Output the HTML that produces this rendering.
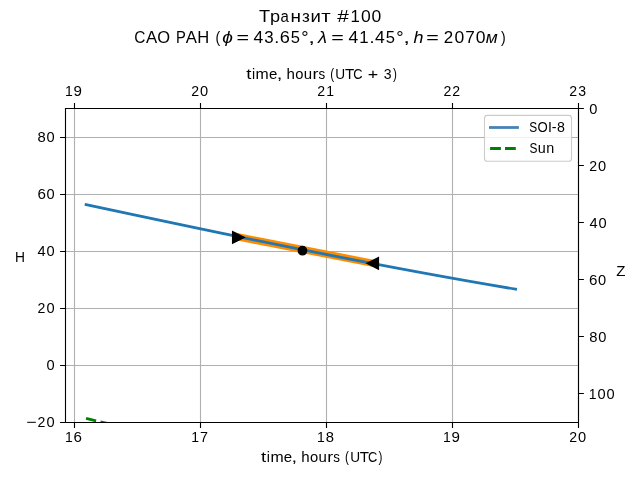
<!DOCTYPE html><html><head><meta charset="utf-8"><style>html,body{margin:0;padding:0;background:#fff;overflow:hidden}svg{display:block;will-change:transform}text{font-family:"Liberation Sans",sans-serif;fill:#000}</style></head><body>
<svg width="640" height="480" viewBox="0 0 640 480">
<rect width="640" height="480" fill="#fff"/>
<defs><clipPath id="ax"><rect x="65.5" y="108.5" width="513" height="314"/></clipPath></defs>
<path d="M74.5 108.5V422.5 M200.5 108.5V422.5 M326.5 108.5V422.5 M452.5 108.5V422.5 M578.5 108.5V422.5 M65.5 137.5H578.5 M65.5 194.5H578.5 M65.5 251.5H578.5 M65.5 308.5H578.5 M65.5 365.5H578.5 M65.5 422.5H578.5" stroke="#b0b0b0" stroke-width="1.111" fill="none"/>
<g clip-path="url(#ax)">
<path d="M86.1 418.4 L140 431.3" stroke="#008000" stroke-width="2.78" stroke-dasharray="10.28 4.45" fill="none"/>
<path d="M238.05 236.9 L373.0 263.3" stroke="#ff8c00" stroke-width="7.3" stroke-linecap="square" fill="none"/>
<path d="M86.1 204.68 C229.27 235.24 372.43 265.31 515.6 289.17" stroke="#1f77b4" stroke-width="2.78" stroke-linecap="square" fill="none"/>
<path d="M244.05 237.43 L232.65 231.73 L232.65 243.13Z M367.00 263.35 L378.40 257.65 L378.40 269.05Z" fill="#000" stroke="#000" stroke-width="1.39" stroke-linejoin="miter"/>
<circle cx="302.46" cy="250.7" r="4.17" fill="#000" stroke="#000" stroke-width="1.39"/>
</g>
<path d="M65.5 422.5V108.5H578.5V422.5Z" stroke="#000" stroke-width="1.111" fill="none" stroke-linecap="square"/>
<path d="M74.5 422.5v5.40 M74.5 108.5v-5.40 M200.5 422.5v5.40 M200.5 108.5v-5.40 M326.5 422.5v5.40 M326.5 108.5v-5.40 M452.5 422.5v5.40 M452.5 108.5v-5.40 M578.5 422.5v5.40 M578.5 108.5v-5.40 M65.5 137.5h-5.40 M65.5 194.5h-5.40 M65.5 251.5h-5.40 M65.5 308.5h-5.40 M65.5 365.5h-5.40 M65.5 422.5h-5.40 M578.5 108.5h5.40 M578.5 165.5h5.40 M578.5 222.5h5.40 M578.5 279.5h5.40 M578.5 336.5h5.40 M578.5 393.5h5.40" stroke="#000" stroke-width="1.111" fill="none"/>
<text x="65.05" y="441.50" font-size="14.72" textLength="7.78" lengthAdjust="spacingAndGlyphs">1</text>
<text x="73.62" y="441.50" font-size="14.72" textLength="8.43" lengthAdjust="spacingAndGlyphs">6</text>
<text x="191.20" y="441.50" font-size="14.72" textLength="7.78" lengthAdjust="spacingAndGlyphs">1</text>
<text x="199.99" y="441.50" font-size="14.72" textLength="7.96" lengthAdjust="spacingAndGlyphs">7</text>
<text x="317.09" y="441.50" font-size="14.72" textLength="7.78" lengthAdjust="spacingAndGlyphs">1</text>
<text x="325.76" y="441.50" font-size="14.72" textLength="8.23" lengthAdjust="spacingAndGlyphs">8</text>
<text x="443.10" y="441.50" font-size="14.72" textLength="7.78" lengthAdjust="spacingAndGlyphs">1</text>
<text x="451.64" y="441.50" font-size="14.72" textLength="8.41" lengthAdjust="spacingAndGlyphs">9</text>
<text x="569.17" y="441.50" font-size="14.72" textLength="7.85" lengthAdjust="spacingAndGlyphs">2</text>
<text x="578.05" y="441.50" font-size="14.72" textLength="8.14" lengthAdjust="spacingAndGlyphs">0</text>
<text x="65.10" y="95.50" font-size="14.72" textLength="7.78" lengthAdjust="spacingAndGlyphs">1</text>
<text x="73.64" y="95.50" font-size="14.72" textLength="8.41" lengthAdjust="spacingAndGlyphs">9</text>
<text x="191.17" y="95.50" font-size="14.72" textLength="7.85" lengthAdjust="spacingAndGlyphs">2</text>
<text x="200.05" y="95.50" font-size="14.72" textLength="8.14" lengthAdjust="spacingAndGlyphs">0</text>
<text x="317.35" y="95.50" font-size="14.72" textLength="7.85" lengthAdjust="spacingAndGlyphs">2</text>
<text x="326.34" y="95.50" font-size="14.72" textLength="7.78" lengthAdjust="spacingAndGlyphs">1</text>
<text x="443.41" y="95.50" font-size="14.72" textLength="7.85" lengthAdjust="spacingAndGlyphs">2</text>
<text x="452.24" y="95.50" font-size="14.72" textLength="7.85" lengthAdjust="spacingAndGlyphs">2</text>
<text x="569.27" y="95.50" font-size="14.72" textLength="7.85" lengthAdjust="spacingAndGlyphs">2</text>
<text x="578.32" y="95.50" font-size="14.72" textLength="7.82" lengthAdjust="spacingAndGlyphs">3</text>
<text x="37.55" y="141.60" font-size="14.72" textLength="8.23" lengthAdjust="spacingAndGlyphs">8</text>
<text x="46.43" y="141.60" font-size="14.72" textLength="8.14" lengthAdjust="spacingAndGlyphs">0</text>
<text x="37.45" y="198.60" font-size="14.72" textLength="8.43" lengthAdjust="spacingAndGlyphs">6</text>
<text x="46.43" y="198.60" font-size="14.72" textLength="8.14" lengthAdjust="spacingAndGlyphs">0</text>
<text x="37.59" y="255.60" font-size="14.72" textLength="8.14" lengthAdjust="spacingAndGlyphs">4</text>
<text x="46.43" y="255.60" font-size="14.72" textLength="8.14" lengthAdjust="spacingAndGlyphs">0</text>
<text x="37.56" y="312.60" font-size="14.72" textLength="7.85" lengthAdjust="spacingAndGlyphs">2</text>
<text x="46.43" y="312.60" font-size="14.72" textLength="8.14" lengthAdjust="spacingAndGlyphs">0</text>
<text x="46.43" y="369.60" font-size="14.72" textLength="8.14" lengthAdjust="spacingAndGlyphs">0</text>
<text x="26.20" y="426.60" font-size="14.72" textLength="10.45" lengthAdjust="spacingAndGlyphs">−</text>
<text x="37.56" y="426.60" font-size="14.72" textLength="7.85" lengthAdjust="spacingAndGlyphs">2</text>
<text x="46.43" y="426.60" font-size="14.72" textLength="8.14" lengthAdjust="spacingAndGlyphs">0</text>
<text x="589.33" y="113.60" font-size="14.72" textLength="8.14" lengthAdjust="spacingAndGlyphs">0</text>
<text x="589.19" y="170.60" font-size="14.72" textLength="7.85" lengthAdjust="spacingAndGlyphs">2</text>
<text x="598.06" y="170.60" font-size="14.72" textLength="8.14" lengthAdjust="spacingAndGlyphs">0</text>
<text x="589.56" y="227.60" font-size="14.72" textLength="8.14" lengthAdjust="spacingAndGlyphs">4</text>
<text x="598.40" y="227.60" font-size="14.72" textLength="8.14" lengthAdjust="spacingAndGlyphs">0</text>
<text x="589.13" y="284.60" font-size="14.72" textLength="8.43" lengthAdjust="spacingAndGlyphs">6</text>
<text x="598.11" y="284.60" font-size="14.72" textLength="8.14" lengthAdjust="spacingAndGlyphs">0</text>
<text x="589.26" y="341.60" font-size="14.72" textLength="8.23" lengthAdjust="spacingAndGlyphs">8</text>
<text x="598.14" y="341.60" font-size="14.72" textLength="8.14" lengthAdjust="spacingAndGlyphs">0</text>
<text x="588.83" y="398.60" font-size="14.72" textLength="7.78" lengthAdjust="spacingAndGlyphs">1</text>
<text x="597.55" y="398.60" font-size="14.72" textLength="8.14" lengthAdjust="spacingAndGlyphs">0</text>
<text x="606.39" y="398.60" font-size="14.72" textLength="8.14" lengthAdjust="spacingAndGlyphs">0</text>
<text x="246.22" y="79.00" font-size="14.72" textLength="5.16" lengthAdjust="spacingAndGlyphs">t</text>
<text x="251.93" y="79.00" font-size="14.72" textLength="3.15" lengthAdjust="spacingAndGlyphs">i</text>
<text x="255.64" y="79.00" font-size="14.72" textLength="13.18" lengthAdjust="spacingAndGlyphs">m</text>
<text x="269.09" y="79.00" font-size="14.72" textLength="8.34" lengthAdjust="spacingAndGlyphs">e</text>
<text x="276.76" y="79.00" font-size="14.72" textLength="5.62" lengthAdjust="spacingAndGlyphs">,</text>
<text x="286.55" y="79.00" font-size="14.72" textLength="8.39" lengthAdjust="spacingAndGlyphs">h</text>
<text x="295.28" y="79.00" font-size="14.72" textLength="8.21" lengthAdjust="spacingAndGlyphs">o</text>
<text x="303.84" y="79.00" font-size="14.72" textLength="8.33" lengthAdjust="spacingAndGlyphs">u</text>
<text x="312.52" y="79.00" font-size="14.72" textLength="5.93" lengthAdjust="spacingAndGlyphs">r</text>
<text x="318.53" y="79.00" font-size="14.72" textLength="6.66" lengthAdjust="spacingAndGlyphs">s</text>
<text x="330.26" y="79.00" font-size="14.72" textLength="3.91" lengthAdjust="spacingAndGlyphs">(</text>
<text x="335.37" y="79.00" font-size="14.72" textLength="9.86" lengthAdjust="spacingAndGlyphs">U</text>
<text x="345.00" y="79.00" font-size="14.72" textLength="9.25" lengthAdjust="spacingAndGlyphs">T</text>
<text x="353.18" y="79.00" font-size="14.72" textLength="9.31" lengthAdjust="spacingAndGlyphs">C</text>
<text x="367.76" y="79.00" font-size="14.72" textLength="10.45" lengthAdjust="spacingAndGlyphs">+</text>
<text x="383.74" y="79.00" font-size="14.72" textLength="7.82" lengthAdjust="spacingAndGlyphs">3</text>
<text x="393.10" y="79.00" font-size="14.72" textLength="3.91" lengthAdjust="spacingAndGlyphs">)</text>
<text x="261.02" y="461.90" font-size="14.72" textLength="5.16" lengthAdjust="spacingAndGlyphs">t</text>
<text x="266.73" y="461.90" font-size="14.72" textLength="3.15" lengthAdjust="spacingAndGlyphs">i</text>
<text x="270.44" y="461.90" font-size="14.72" textLength="13.18" lengthAdjust="spacingAndGlyphs">m</text>
<text x="283.89" y="461.90" font-size="14.72" textLength="8.34" lengthAdjust="spacingAndGlyphs">e</text>
<text x="291.56" y="461.90" font-size="14.72" textLength="5.62" lengthAdjust="spacingAndGlyphs">,</text>
<text x="301.35" y="461.90" font-size="14.72" textLength="8.39" lengthAdjust="spacingAndGlyphs">h</text>
<text x="310.08" y="461.90" font-size="14.72" textLength="8.21" lengthAdjust="spacingAndGlyphs">o</text>
<text x="318.64" y="461.90" font-size="14.72" textLength="8.33" lengthAdjust="spacingAndGlyphs">u</text>
<text x="327.32" y="461.90" font-size="14.72" textLength="5.93" lengthAdjust="spacingAndGlyphs">r</text>
<text x="333.33" y="461.90" font-size="14.72" textLength="6.66" lengthAdjust="spacingAndGlyphs">s</text>
<text x="345.06" y="461.90" font-size="14.72" textLength="3.91" lengthAdjust="spacingAndGlyphs">(</text>
<text x="350.17" y="461.90" font-size="14.72" textLength="9.86" lengthAdjust="spacingAndGlyphs">U</text>
<text x="359.80" y="461.90" font-size="14.72" textLength="9.25" lengthAdjust="spacingAndGlyphs">T</text>
<text x="367.98" y="461.90" font-size="14.72" textLength="9.31" lengthAdjust="spacingAndGlyphs">C</text>
<text x="378.60" y="461.90" font-size="14.72" textLength="3.91" lengthAdjust="spacingAndGlyphs">)</text>
<text x="15.12" y="261.60" font-size="14.72" textLength="9.98" lengthAdjust="spacingAndGlyphs">H</text>
<text x="616.19" y="275.80" font-size="14.72" textLength="9.22" lengthAdjust="spacingAndGlyphs">Z</text>
<text x="258.99" y="22.00" font-size="17.1" textLength="11.10" lengthAdjust="spacingAndGlyphs">Т</text>
<text x="269.97" y="22.00" font-size="17.1" textLength="10.08" lengthAdjust="spacingAndGlyphs">р</text>
<text x="280.57" y="22.00" font-size="17.1" textLength="8.34" lengthAdjust="spacingAndGlyphs">а</text>
<text x="290.62" y="22.00" font-size="17.1" textLength="10.51" lengthAdjust="spacingAndGlyphs">н</text>
<text x="301.99" y="22.00" font-size="17.1" textLength="7.85" lengthAdjust="spacingAndGlyphs">з</text>
<text x="310.41" y="22.00" font-size="17.1" textLength="10.38" lengthAdjust="spacingAndGlyphs">и</text>
<text x="321.15" y="22.00" font-size="17.1" textLength="9.44" lengthAdjust="spacingAndGlyphs">т</text>
<text x="337.21" y="22.00" font-size="17.1" textLength="11.59" lengthAdjust="spacingAndGlyphs">#</text>
<text x="350.54" y="22.00" font-size="17.1" textLength="9.33" lengthAdjust="spacingAndGlyphs">1</text>
<text x="361.00" y="22.00" font-size="17.1" textLength="9.77" lengthAdjust="spacingAndGlyphs">0</text>
<text x="371.60" y="22.00" font-size="17.1" textLength="9.77" lengthAdjust="spacingAndGlyphs">0</text>
<text x="134.31" y="42.90" font-size="17.1" textLength="11.17" lengthAdjust="spacingAndGlyphs">С</text>
<text x="145.89" y="42.90" font-size="17.1" textLength="11.20" lengthAdjust="spacingAndGlyphs">А</text>
<text x="157.35" y="42.90" font-size="17.1" textLength="12.82" lengthAdjust="spacingAndGlyphs">О</text>
<text x="176.04" y="42.90" font-size="17.1" textLength="9.83" lengthAdjust="spacingAndGlyphs">Р</text>
<text x="185.76" y="42.90" font-size="17.1" textLength="11.20" lengthAdjust="spacingAndGlyphs">А</text>
<text x="197.34" y="42.90" font-size="17.1" textLength="11.97" lengthAdjust="spacingAndGlyphs">Н</text>
<text x="215.46" y="42.90" font-size="17.1" textLength="4.69" lengthAdjust="spacingAndGlyphs">(</text>
<text x="222.18" y="42.90" font-size="17.1" textLength="10.65" lengthAdjust="spacingAndGlyphs" font-style="italic">ϕ</text>
<text x="236.45" y="42.90" font-size="17.1" textLength="12.54" lengthAdjust="spacingAndGlyphs">=</text>
<text x="253.41" y="42.90" font-size="17.1" textLength="9.77" lengthAdjust="spacingAndGlyphs">4</text>
<text x="264.23" y="42.90" font-size="17.1" textLength="9.38" lengthAdjust="spacingAndGlyphs">3</text>
<text x="274.34" y="42.90" font-size="17.1" textLength="5.01" lengthAdjust="spacingAndGlyphs">.</text>
<text x="279.75" y="42.90" font-size="17.1" textLength="10.11" lengthAdjust="spacingAndGlyphs">6</text>
<text x="290.73" y="42.90" font-size="17.1" textLength="9.22" lengthAdjust="spacingAndGlyphs">5</text>
<text x="301.20" y="42.90" font-size="17.1" textLength="7.36" lengthAdjust="spacingAndGlyphs">°</text>
<text x="308.15" y="42.90" font-size="17.1" textLength="6.75" lengthAdjust="spacingAndGlyphs">,</text>
<text x="318.03" y="42.90" font-size="17.1" textLength="9.01" lengthAdjust="spacingAndGlyphs" font-style="italic">λ</text>
<text x="331.35" y="42.90" font-size="17.1" textLength="12.54" lengthAdjust="spacingAndGlyphs">=</text>
<text x="348.51" y="42.90" font-size="17.1" textLength="9.77" lengthAdjust="spacingAndGlyphs">4</text>
<text x="359.26" y="42.90" font-size="17.1" textLength="9.33" lengthAdjust="spacingAndGlyphs">1</text>
<text x="369.44" y="42.90" font-size="17.1" textLength="5.01" lengthAdjust="spacingAndGlyphs">.</text>
<text x="375.02" y="42.90" font-size="17.1" textLength="9.77" lengthAdjust="spacingAndGlyphs">4</text>
<text x="385.83" y="42.90" font-size="17.1" textLength="9.22" lengthAdjust="spacingAndGlyphs">5</text>
<text x="396.30" y="42.90" font-size="17.1" textLength="7.36" lengthAdjust="spacingAndGlyphs">°</text>
<text x="403.25" y="42.90" font-size="17.1" textLength="6.75" lengthAdjust="spacingAndGlyphs">,</text>
<text x="413.45" y="42.90" font-size="17.1" textLength="9.97" lengthAdjust="spacingAndGlyphs" font-style="italic">h</text>
<text x="426.35" y="42.90" font-size="17.1" textLength="12.54" lengthAdjust="spacingAndGlyphs">=</text>
<text x="443.85" y="42.90" font-size="17.1" textLength="9.42" lengthAdjust="spacingAndGlyphs">2</text>
<text x="454.50" y="42.90" font-size="17.1" textLength="9.77" lengthAdjust="spacingAndGlyphs">0</text>
<text x="465.17" y="42.90" font-size="17.1" textLength="9.56" lengthAdjust="spacingAndGlyphs">7</text>
<text x="475.70" y="42.90" font-size="17.1" textLength="9.77" lengthAdjust="spacingAndGlyphs">0</text>
<text x="485.71" y="42.90" font-size="17.1" textLength="11.94" lengthAdjust="spacingAndGlyphs" font-style="italic">м</text>
<text x="500.92" y="42.90" font-size="17.1" textLength="4.69" lengthAdjust="spacingAndGlyphs">)</text>
<rect x="484.5" y="115.4" width="87" height="45.8" rx="2.78" fill="#fff" fill-opacity="0.8" stroke="#cccccc" stroke-width="1.111"/>
<path d="M489 127.5H518.9" stroke="#4682b4" stroke-width="2.78"/>
<path d="M490.1 148.5H516.8" stroke="#008000" stroke-width="2.78" stroke-dasharray="10.8 4.1"/>
<text x="529.26" y="132.00" font-size="14.1312" textLength="7.93" lengthAdjust="spacingAndGlyphs">S</text>
<text x="537.51" y="132.00" font-size="14.1312" textLength="10.25" lengthAdjust="spacingAndGlyphs">O</text>
<text x="547.89" y="132.00" font-size="14.1312" textLength="3.92" lengthAdjust="spacingAndGlyphs">I</text>
<text x="551.82" y="132.00" font-size="14.1312" textLength="4.79" lengthAdjust="spacingAndGlyphs">-</text>
<text x="556.91" y="132.00" font-size="14.1312" textLength="7.90" lengthAdjust="spacingAndGlyphs">8</text>
<text x="529.46" y="152.90" font-size="14.1312" textLength="7.93" lengthAdjust="spacingAndGlyphs">S</text>
<text x="537.78" y="152.90" font-size="14.1312" textLength="7.99" lengthAdjust="spacingAndGlyphs">u</text>
<text x="546.29" y="152.90" font-size="14.1312" textLength="7.99" lengthAdjust="spacingAndGlyphs">n</text>
</svg></body></html>
